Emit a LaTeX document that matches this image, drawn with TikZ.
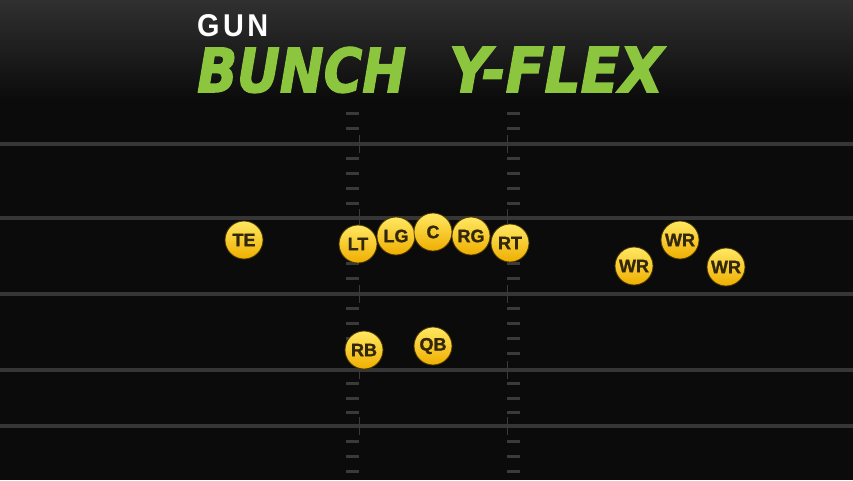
\documentclass[tikz,border=0pt]{standalone}
\usepackage{fontspec}
\setmainfont{Liberation Sans}
\newfontfamily\titlefont[FakeBold=2.5]{DejaVu Sans}
\newfontfamily\ballfont[FakeBold=1.2]{Liberation Sans}
\usepackage{graphicx}
\definecolor{fieldbg}{HTML}{0B0B0B}
\definecolor{headtop}{HTML}{303030}
\definecolor{yard}{HTML}{363636}
\definecolor{hashc}{HTML}{3A3A3A}
\definecolor{titlegreen}{HTML}{8CC63F}
\definecolor{ballline}{HTML}{4A3600}
\definecolor{balltop}{HTML}{FFE862}
\definecolor{ballbot}{HTML}{EFAE00}
\definecolor{balltext}{HTML}{33270A}
\tikzset{
  yardline/.style={draw=yard, line width=4.5pt},
  hashmark/.style={fill=hashc},
  tick/.style={draw=hashc, line width=1pt},
  player/.style={circle, minimum size=38pt, inner sep=0pt, draw=ballline, line width=0.8pt,
    top color=balltop, bottom color=ballbot, text=balltext,
    font=\ballfont\bfseries\fontsize{18}{18}\selectfont},
  titletext/.style={anchor=base west, inner sep=0pt}
}
\begin{document}
\begin{tikzpicture}[x=1pt,y=-1pt]
\useasboundingbox (0,0) rectangle (853,480);
\fill[fieldbg] (0,0) rectangle (853,480);
\shade[top color=headtop, bottom color=fieldbg] (0,0) rectangle (853,100);
% yard lines
\foreach \yy in {144,218,294,370,426}{
  \draw[yardline] (0,\yy) -- (853,\yy);
  \draw[tick] (359,\yy-9) -- (359,\yy+9);
  \draw[tick] (507,\yy-9) -- (507,\yy+9);
}
% hash marks
\foreach \yy in {113,128,158,173,188,203,233,248,263,278,308,323,338,353,383,398,412,441,456,471}{
  \fill[hashmark] (346,\yy-1.5) rectangle (359,\yy+1.5);
  \fill[hashmark] (507,\yy-1.5) rectangle (520,\yy+1.5);
}
% title
\node[titletext, text=white] (gun) at (197,36) {\resizebox{71pt}{22pt}{\addfontfeatures{LetterSpace=12}\bfseries GUN}};
\node[titletext, text=titlegreen] (bunch) at (197,92) {\resizebox{209pt}{45pt}{\titlefont\bfseries\itshape BUNCH}};
\node[titletext, text=titlegreen] (yflex) at (449,92) {\resizebox{214pt}{45pt}{\titlefont\bfseries\itshape Y-FLEX}};
% players
\node[player] (TE) at (244,240) {TE};
\node[player] (LT) at (358,244) {LT};
\node[player] (LG) at (396,236) {LG};
\node[player] (C) at (433,232) {C};
\node[player] (RG) at (471,236) {RG};
\node[player] (RT) at (510,243) {RT};
\node[player] (WRa) at (634,266) {WR};
\node[player] (WRb) at (680,240) {WR};
\node[player] (WRc) at (726,267) {WR};
\node[player] (RB) at (364,350) {RB};
\node[player] (QB) at (433,346) {QB};
\end{tikzpicture}
\end{document}
